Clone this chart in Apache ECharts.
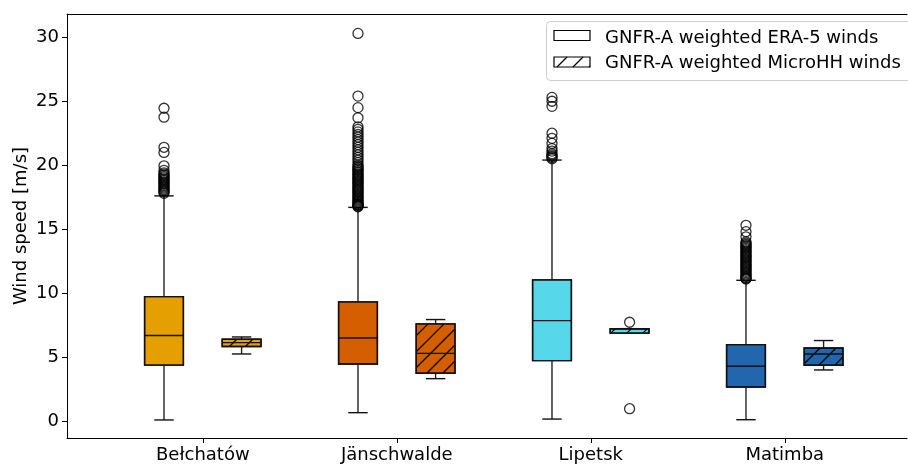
<!DOCTYPE html>
<html><head><meta charset="utf-8">
<script src="https://cdn.jsdelivr.net/npm/echarts@6/dist/echarts.min.js"></script>
<style>html,body{margin:0;padding:0;background:#fff}#c{width:908px;height:464px}</style>
</head><body><div id="c"></div>
<script>
const categories = ['Bełchatów', 'Jänschwalde', 'Lipetsk', 'Matimba'];
const colors = ['#E69F00', '#D55E00', '#56D7EA', '#2266AE'];
const seriesNames = ['GNFR-A weighted ERA-5 winds', 'GNFR-A weighted MicroHH winds'];
// [lower whisker, Q1, median, Q3, upper whisker]
const era5Boxes = [
  [0.08, 4.37, 6.68, 9.72, 17.6],
  [0.65, 4.46, 6.49, 9.31, 16.7],
  [0.15, 4.72, 7.85, 11.03, 20.4],
  [0.10, 2.66, 4.28, 5.97, 11.0]
];
const microhhBoxes = [
  [5.24, 5.82, 6.13, 6.39, 6.57],
  [3.31, 3.73, 5.29, 7.59, 7.93],
  [6.86, 6.87, 7.20, 7.21, 7.22],
  [3.99, 4.36, 5.24, 5.71, 6.29]
];
const era5Outliers = [
  [17.8, 17.9, 18.0, 18.1, 18.2, 18.3, 18.4, 18.5, 18.6, 18.7, 18.8, 18.9, 19.0, 19.1, 19.2, 19.3, 19.4, 19.6, 19.95, 21.0, 21.4, 23.75, 24.45],
  [16.75, 16.8, 16.85, 16.9, 16.95, 17.0, 17.1, 17.2, 17.3, 17.4, 17.5, 17.6, 17.7, 17.8, 17.9, 18.0, 18.1, 18.2, 18.3, 18.4, 18.5, 18.6, 18.7, 18.8, 18.9, 19.0, 19.1, 19.2, 19.3, 19.4, 19.5, 19.6, 19.7, 19.8, 19.9, 20.0, 20.2, 20.4, 20.6, 20.8, 21.0, 21.2, 21.4, 21.6, 21.8, 22.0, 22.2, 22.4, 22.6, 22.8, 23.0, 23.7, 24.5, 25.4, 30.3],
  [20.5, 20.6, 20.7, 20.8, 20.9, 21.1, 21.3, 21.7, 22.1, 22.5, 24.6, 25.0, 25.3],
  [11.1, 11.15, 11.2, 11.3, 11.4, 11.5, 11.6, 11.7, 11.8, 11.9, 12.0, 12.1, 12.2, 12.3, 12.4, 12.5, 12.6, 12.7, 12.8, 12.9, 13.0, 13.1, 13.2, 13.3, 13.4, 13.5, 13.6, 13.7, 13.8, 13.9, 14.0, 14.4, 14.8, 15.3]
];
const microhhOutliers = [[], [], [7.72, 0.96], []];
const yTicks = [0, 5, 10, 15, 20, 25, 30];
const xTicks = [1, 2, 3, 4];

const FONT = 'DejaVu Sans';
const FS = 18;
const OFFSET = 0.2, BOXW = 0.2, CAPW = 0.1;
const HATCH = 16;

function hatchLines(x0, y0, x1, y1, s, lw) {
  const out = [];
  const kStart = Math.ceil((x0 + y0) / s), kEnd = Math.floor((x1 + y1) / s);
  for (let k = kStart; k <= kEnd; k++) {
    const c = k * s;
    const xs = Math.max(x0, c - y1), xe = Math.min(x1, c - y0);
    if (xe > xs) out.push({
      type: 'line', shape: { x1: xs, y1: c - xs, x2: xe, y2: c - xe },
      style: { stroke: '#000', lineWidth: lw }
    });
  }
  return out;
}

function makeRender(hatched) {
  return function (params, api) {
    const x = api.value(0), ci = api.value(6);
    const lo = api.value(1), q1 = api.value(2), md = api.value(3), q3 = api.value(4), hi = api.value(5);
    const cx = api.coord([x, md])[0];
    const xl = api.coord([x - BOXW / 2, md])[0], xr = api.coord([x + BOXW / 2, md])[0];
    const cl = api.coord([x - CAPW / 2, md])[0], cr = api.coord([x + CAPW / 2, md])[0];
    const yLo = api.coord([x, lo])[1], yQ1 = api.coord([x, q1])[1], yMd = api.coord([x, md])[1];
    const yQ3 = api.coord([x, q3])[1], yHi = api.coord([x, hi])[1];
    const ln = (a, b, c, d, col) => ({ type: 'line', shape: { x1: a, y1: b, x2: c, y2: d }, style: { stroke: col || '#000', lineWidth: 1.4 } });
    const children = [
      ln(cx, yQ1, cx, yLo, '#222'), ln(cx, yQ3, cx, yHi, '#222'),
      ln(cl, yLo, cr, yLo, '#111'), ln(cl, yHi, cr, yHi, '#111'),
      { type: 'rect', shape: { x: xl, y: yQ3, width: xr - xl, height: yQ1 - yQ3 }, style: { fill: colors[ci], stroke: '#111', lineWidth: 1.4 } }
    ];
    if (hatched) hatchLines(xl, yQ3, xr, yQ1, HATCH, 1.3).forEach(h => children.push(h));
    children.push({ type: 'rect', shape: { x: xl, y: yQ3, width: xr - xl, height: yQ1 - yQ3 }, style: { fill: 'none', stroke: '#111', lineWidth: 1.4 } });
    children.push(ln(xl, yMd, xr, yMd, '#111'));
    return { type: 'group', children };
  };
}

const era5Data = era5Boxes.map((b, i) => [xTicks[i] - OFFSET, ...b, i]);
const microData = microhhBoxes.map((b, i) => [xTicks[i] + OFFSET, ...b, i]);
const outlierData = [];
era5Outliers.forEach((arr, i) => arr.forEach(v => outlierData.push([xTicks[i] - OFFSET, v])));
microhhOutliers.forEach((arr, i) => arr.forEach(v => outlierData.push([xTicks[i] + OFFSET, v])));

// legend graphics
const legendX = 546, legendY = 21;
const icon2 = { x: 554, y: 57, w: 36, h: 10 };
const legendGraphics = [
  { type: 'rect', shape: { x: legendX + 0.5, y: legendY + 0.5, width: 420, height: 59, r: 4 }, style: { fill: 'rgba(255,255,255,0.8)', stroke: '#cccccc', lineWidth: 1 }, z: 100 },
  { type: 'rect', shape: { x: 554, y: 30.5, width: 36, height: 10 }, style: { fill: '#fff', stroke: '#000', lineWidth: 1.2 }, z: 101 },
  { type: 'rect', shape: { x: icon2.x, y: icon2.y, width: icon2.w, height: icon2.h }, style: { fill: '#fff', stroke: '#000', lineWidth: 1.2 }, z: 101 },
  ...hatchLines(icon2.x, icon2.y, icon2.x + icon2.w, icon2.y + icon2.h, HATCH, 1.2).map(h => Object.assign(h, { z: 102 })),
  { type: 'text', x: 605, y: 38, style: { text: seriesNames[0], fontFamily: FONT, fontSize: FS, fill: '#000', verticalAlign: 'middle' }, z: 103 },
  { type: 'text', x: 605, y: 63, style: { text: seriesNames[1], fontFamily: FONT, fontSize: FS, fill: '#000', verticalAlign: 'middle' }, z: 103 }
];

const axisLineStyle = { color: '#000', width: 1 };
const chart = echarts.init(document.getElementById('c'), null, { renderer: 'canvas' });
chart.setOption({
  animation: false,
  backgroundColor: '#fff',
  textStyle: { fontFamily: FONT },
  grid: { left: 67, top: 14, right: 1, bottom: 26, show: false },
  xAxis: [{
    type: 'value', min: 0.3, max: 4.63,
    axisLine: { show: true, onZero: false, lineStyle: axisLineStyle },
    axisTick: { show: true, length: 5, customValues: xTicks, lineStyle: { color: '#000' } },
    axisLabel: { customValues: xTicks, formatter: v => categories[Math.round(v) - 1], fontFamily: FONT, fontSize: FS, color: '#000', margin: 8 },
    splitLine: { show: false }
  }, {
    type: 'value', min: 0.3, max: 4.63, position: 'top',
    axisLine: { show: true, onZero: false, lineStyle: axisLineStyle },
    axisTick: { show: false }, axisLabel: { show: false }, splitLine: { show: false }
  }],
  yAxis: {
    type: 'value', min: -1.33, max: 31.82,
    name: 'Wind speed [m/s]', nameLocation: 'middle', nameGap: 37, nameMoveOverlap: false,
    nameTextStyle: { fontFamily: FONT, fontSize: FS, color: '#000' },
    axisLine: { show: true, onZero: false, lineStyle: axisLineStyle },
    axisTick: { show: true, length: 5, customValues: yTicks, lineStyle: { color: '#000' } },
    axisLabel: { customValues: yTicks, fontFamily: FONT, fontSize: FS, color: '#000', margin: 8 },
    splitLine: { show: false }
  },
  series: [
    { type: 'custom', name: seriesNames[0], renderItem: makeRender(false), data: era5Data, encode: { x: 0, y: [1, 5] }, z: 2 },
    { type: 'custom', name: seriesNames[1], renderItem: makeRender(true), data: microData, encode: { x: 0, y: [1, 5] }, z: 2 },
    { type: 'scatter', data: outlierData, symbol: 'circle', symbolSize: 10, z: 3,
      itemStyle: { color: 'rgba(0,0,0,0)', borderColor: '#000', borderWidth: 1.3 }, emphasis: { disabled: true } }
  ],
  graphic: legendGraphics
});
</script>
</body></html>
